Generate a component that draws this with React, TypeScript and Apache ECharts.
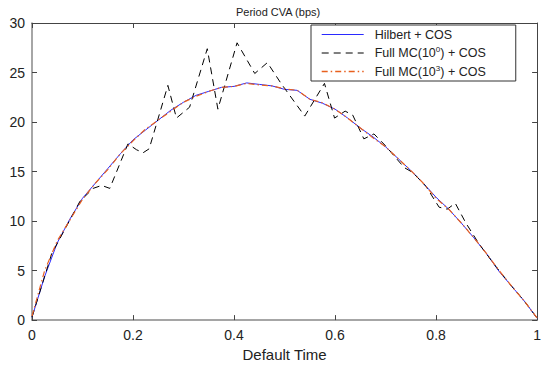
import React, { useEffect, useRef } from "react";
import * as echarts from "echarts";

const FONT = "'Liberation Sans', Arial, sans-serif";

const timeGrid = [
  0, 0.025, 0.05, 0.075, 0.1, 0.125, 0.15, 0.175, 0.2, 0.225,
  0.25, 0.275, 0.3, 0.325, 0.35, 0.375, 0.4, 0.425, 0.45, 0.475,
  0.5, 0.525, 0.55, 0.575, 0.6, 0.625, 0.65, 0.675, 0.7, 0.725,
  0.75, 0.775, 0.8, 0.825, 0.85, 0.875, 0.9, 0.925, 0.95, 0.975, 1,
];

const hilbertCVA = [
  0.3, 4.4, 7.8, 10.2, 12.3, 13.8, 15.3, 16.8, 18.2, 19.2,
  20.2, 21.2, 22.0, 22.7, 23.1, 23.5, 23.6, 23.95, 23.8, 23.65,
  23.3, 23.2, 22.3, 21.9, 21.3, 20.4, 19.4, 18.5, 17.5, 16.3,
  15.1, 13.8, 12.4, 11.2, 9.8, 8.3, 6.7, 4.9, 3.4, 1.9, 0.2,
];

const mc1000CVA = [
  0.4, 5.0, 8.0, 10.1, 12.2, 13.8, 15.2, 16.8, 18.1, 19.3,
  20.2, 21.1, 22.0, 22.6, 23.1, 23.5, 23.6, 23.9, 23.75, 23.65,
  23.35, 23.2, 22.3, 21.95, 21.3, 20.4, 19.4, 18.4, 17.5, 16.3,
  15.1, 13.8, 12.3, 11.2, 9.8, 8.3, 6.7, 5.0, 3.4, 1.9, 0.2,
];

const mc1Time = [
  0, 0.039, 0.095, 0.121, 0.138, 0.154, 0.19, 0.207, 0.22, 0.232,
  0.269, 0.286, 0.312, 0.347, 0.368, 0.406, 0.441, 0.466, 0.493, 0.54,
  0.579, 0.599, 0.62, 0.635, 0.657, 0.677, 0.7, 0.72, 0.737, 0.754,
  0.78, 0.806, 0.822, 0.838, 0.859, 0.885, 0.92, 0.95, 0.975, 1,
];

const mc1CVA = [
  0.3, 6.7, 12.0, 13.3, 13.6, 13.3, 17.8, 17.2, 16.9, 17.3,
  23.7, 20.4, 21.5, 27.4, 21.3, 28.0, 24.9, 26.0, 23.9, 20.6,
  23.9, 20.4, 21.1, 20.7, 18.3, 18.8, 17.6, 16.4, 15.4, 14.9,
  13.5, 11.4, 11.2, 11.8, 9.8, 7.7, 5.3, 3.4, 1.9, 0.2,
];

const xTicks = { min: 0, max: 1, interval: 0.2 };
const yTicks = { min: 0, max: 30, interval: 5 };

const seriesNames = ["Hilbert + COS", "Full MC(10⁰) + COS", "Full MC(10³) + COS"];
const legendRich = ["Hilbert + COS", "Full MC(10{sup|0}) + COS", "Full MC(10{sup|3}) + COS"];
const seriesColors = ["#2a2aff", "#000000", "#e8601e"];

const zip = (xs: number[], ys: number[]) => xs.map((x, i) => [x, ys[i]]);

export default function App() {
  const ref = useRef<HTMLDivElement>(null);
  useEffect(() => {
    if (!ref.current) return;
    const chart = echarts.init(ref.current, undefined, { renderer: "svg" });
    const axisCommonX = {
      type: "value",
      min: xTicks.min,
      max: xTicks.max,
      interval: xTicks.interval,
      splitLine: { show: false },
    };
    const axisCommonY = {
      type: "value",
      min: yTicks.min,
      max: yTicks.max,
      interval: yTicks.interval,
      splitLine: { show: false },
    };
    chart.setOption({
      animation: false,
      backgroundColor: "#fff",
      title: {
        text: "Period CVA (bps)",
        left: 236,
        top: 6,
        padding: 0,
        textStyle: { fontSize: 11, fontWeight: "normal", color: "#222", fontFamily: FONT },
      },
      grid: { left: 32, right: 6, top: 23, bottom: 37 },
      legend: {
        orient: "vertical",
        left: 311,
        top: 25,
        padding: [2, 30, 2, 10],
        itemGap: 3.5,
        itemWidth: 42,
        itemHeight: 2,
        backgroundColor: "#fff",
        borderColor: "#333",
        borderWidth: 1,
        itemStyle: { opacity: 0, borderWidth: 0 },
        lineStyle: { width: 1 },
        data: [
          { name: seriesNames[0], lineStyle: { color: seriesColors[0], width: 1 } },
          { name: seriesNames[1], lineStyle: { color: seriesColors[1], width: 1 } },
          { name: seriesNames[2], lineStyle: { color: seriesColors[2], width: 1.4 } },
        ],
        formatter: (name: string) => legendRich[seriesNames.indexOf(name)],
        textStyle: {
          fontSize: 12.5,
          color: "#222",
          fontFamily: FONT,
          lineHeight: 15,
          padding: [0, 0, 0, 6],
          rich: {
            sup: { fontSize: 8, fontFamily: FONT, color: "#222", verticalAlign: "top", lineHeight: 9 },
          },
        },
      },
      xAxis: [
        {
          ...axisCommonX,
          position: "bottom",
          axisLine: { onZero: false, lineStyle: { color: "#888", width: 1.5 } },
          axisTick: { inside: true, length: 5, lineStyle: { color: "#444" } },
          axisLabel: { fontSize: 14, margin: 8, color: "#222", fontFamily: FONT },
          name: "Default Time",
          nameLocation: "middle",
          nameGap: 22,
          nameTextStyle: { fontSize: 15, color: "#222", fontFamily: FONT },
        },
        {
          ...axisCommonX,
          position: "top",
          axisLine: { onZero: false, lineStyle: { color: "#444", width: 1 } },
          axisTick: { inside: true, length: 5, lineStyle: { color: "#444" } },
          axisLabel: { show: false },
        },
      ],
      yAxis: [
        {
          ...axisCommonY,
          position: "left",
          axisLine: { onZero: false, lineStyle: { color: "#888", width: 1.5 } },
          axisTick: { inside: true, length: 5, lineStyle: { color: "#444" } },
          axisLabel: { fontSize: 14, margin: 7, color: "#222", fontFamily: FONT },
        },
        {
          ...axisCommonY,
          position: "right",
          axisLine: { onZero: false, lineStyle: { color: "#444", width: 1 } },
          axisTick: { inside: true, length: 5, lineStyle: { color: "#444" } },
          axisLabel: { show: false },
        },
      ],
      series: [
        {
          name: seriesNames[0],
          type: "line",
          data: zip(timeGrid, hilbertCVA),
          symbol: "none",
          color: seriesColors[0],
          lineStyle: { color: seriesColors[0], width: 1 },
          z: 2,
        },
        {
          name: seriesNames[1],
          type: "line",
          data: zip(mc1Time, mc1CVA),
          symbol: "none",
          color: seriesColors[1],
          lineStyle: { color: seriesColors[1], width: 1, type: [7, 5] },
          z: 3,
        },
        {
          name: seriesNames[2],
          type: "line",
          data: zip(timeGrid, mc1000CVA),
          symbol: "none",
          color: seriesColors[2],
          lineStyle: { color: seriesColors[2], width: 1.2, type: [6, 3, 1.5, 3] },
          z: 4,
        },
      ],
    });
    return () => chart.dispose();
  }, []);
  return <div ref={ref} style={{ width: 544, height: 367, position: "absolute", left: 0, top: 0 }} />;
}
